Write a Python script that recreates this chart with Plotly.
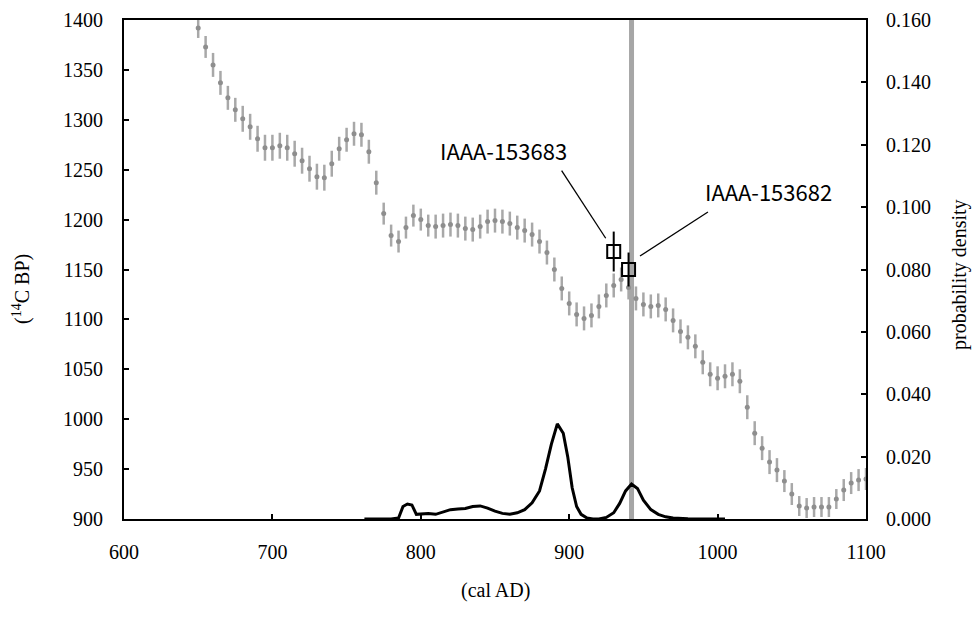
import plotly.graph_objects as go

# Calibration curve (IntCal-like), 5-year grid
cal_years = [650, 655, 660, 665, 670, 675, 680, 685, 690, 695,
             700, 705, 710, 715, 720, 725, 730, 735, 740, 745,
             750, 755, 760, 765, 770, 775, 780, 785, 790, 795,
             800, 805, 810, 815, 820, 825, 830, 835, 840, 845,
             850, 855, 860, 865, 870, 875, 880, 885, 890, 895,
             900, 905, 910, 915, 920, 925, 930, 935, 940, 945,
             950, 955, 960, 965, 970, 975, 980, 985, 990, 995,
             1000, 1005, 1010, 1015, 1020, 1025, 1030, 1035, 1040, 1045,
             1050, 1055, 1060, 1065, 1070, 1075, 1080, 1085, 1090, 1095,
             1100]
cal_bp = [1392, 1373, 1355, 1337, 1322, 1310, 1301, 1293, 1281, 1272,
          1272, 1274, 1272, 1266, 1259, 1251, 1243, 1242, 1256, 1271,
          1280, 1286, 1285, 1268, 1237, 1206, 1184, 1178, 1192, 1204,
          1200, 1194, 1193, 1194, 1195, 1194, 1191, 1190, 1193, 1198,
          1199, 1198, 1196, 1192, 1189, 1185, 1178, 1167, 1150, 1131,
          1116, 1105, 1101, 1104, 1113, 1124, 1134, 1140, 1132, 1121,
          1115, 1113, 1114, 1110, 1099, 1088, 1082, 1073, 1057, 1045,
          1041, 1043, 1045, 1038, 1012, 986, 971, 957, 949, 938,
          925, 913, 911, 912, 912, 912, 920, 929, 936, 939,
          940]
cal_err = [10, 11, 12, 12, 12, 12, 13, 13, 13, 13,
           13, 13, 13, 13, 13, 13, 13, 13, 13, 12,
           12, 12, 12, 12, 12, 11, 11, 11, 11, 11,
           11, 11, 12, 12, 12, 12, 12, 12, 12, 12,
           12, 12, 12, 12, 12, 12, 12, 12, 12, 12,
           12, 12, 12, 12, 12, 12, 12, 12, 12, 12,
           12, 12, 12, 12, 12, 12, 12, 12, 12, 12,
           12, 12, 12, 12, 12, 12, 12, 12, 12, 11,
           11, 10, 10, 10, 10, 10, 10, 11, 11, 11,
           11]

# Measured samples
sample_names = ["IAAA-153683", "IAAA-153682"]
sample_x = [930, 940]
sample_bp = [1168, 1150]
sample_err = [20, 17]

# Calibrated probability density
prob_years = [762, 770, 780, 785, 788, 791, 794, 797, 800, 805,
              810, 815, 820, 825, 830, 835, 840, 845, 850, 855,
              860, 865, 870, 875, 880, 884, 888, 892, 896, 899,
              902, 905, 908, 912, 916, 920, 925, 930, 934, 938,
              942, 946, 950, 955, 960, 965, 970, 980, 990, 1000, 1005]
prob_density = [0, 0, 0, 0.0003, 0.004, 0.0048, 0.0045, 0.0015, 0.0017, 0.0018,
                0.0015, 0.0022, 0.003, 0.0032, 0.0034, 0.004, 0.0042, 0.0035, 0.0025, 0.0018,
                0.0015, 0.002, 0.003, 0.0052, 0.009, 0.016, 0.024, 0.0305, 0.0275, 0.02,
                0.01, 0.004, 0.0015, 0.0003, 0, 0, 0.0005, 0.002, 0.005, 0.009,
                0.0112, 0.0098, 0.006, 0.003, 0.0015, 0.0007, 0.0003, 0.0001, 0, 0, 0]

median_year = 942

serif = "Liberation Serif"
gothic = "Noto Sans CJK JP"

fig = go.Figure()

fig.add_trace(go.Scatter(
    x=cal_years, y=cal_bp, mode="markers",
    marker=dict(color="#8e8e8e", size=5),
    error_y=dict(type="data", array=cal_err, color="#a8a8a8", thickness=2.5, width=0),
    showlegend=False, hoverinfo="skip"))

fig.add_trace(go.Scatter(
    x=sample_x, y=sample_bp, mode="markers",
    marker=dict(symbol="square-open", size=13, color="black", line=dict(width=2, color="black")),
    error_y=dict(type="data", array=sample_err, color="black", thickness=2, width=0),
    showlegend=False, hoverinfo="skip"))

fig.add_trace(go.Scatter(
    x=prob_years, y=prob_density, yaxis="y2", mode="lines",
    line=dict(color="black", width=3),
    showlegend=False, hoverinfo="skip"))

# vertical gray line
fig.add_shape(type="line", xref="x", yref="paper", x0=median_year, x1=median_year,
              y0=0, y1=1, line=dict(color="#a6a6a6", width=5), layer="below")

# leader lines
fig.add_shape(type="line", xref="x", yref="y", x0=894.9, y0=1249, x1=924.6, y1=1181.3,
              line=dict(color="black", width=1.3))
fig.add_shape(type="line", xref="x", yref="y", x0=947.7, y0=1163.5, x1=993.5, y1=1207.6,
              line=dict(color="black", width=1.3))

fig.add_annotation(x=855.9, y=1270, xref="x", yref="y", text=sample_names[0],
                   xanchor="center", yanchor="middle",
                   showarrow=False, font=dict(family=gothic, size=22, color="black"))
fig.add_annotation(x=1034, y=1229, xref="x", yref="y", text=sample_names[1],
                   xanchor="center", yanchor="middle",
                   showarrow=False, font=dict(family=gothic, size=22, color="black"))

# axis titles
fig.add_annotation(x=-0.1375, y=0.461, xref="paper", yref="paper", text="(<sup>14</sup>C BP)",
                   xanchor="center", yanchor="middle",
                   textangle=-90, showarrow=False, font=dict(family=serif, size=20, color="black"))
fig.add_annotation(x=1.1267, y=0.489, xref="paper", yref="paper", text="probability density",
                   xanchor="center", yanchor="middle",
                   textangle=-90, showarrow=False, font=dict(family=serif, size=20, color="black"))
fig.add_annotation(x=0.5, y=-0.1423, xref="paper", yref="paper", text="(cal AD)",
                   xanchor="center", yanchor="middle",
                   showarrow=False, font=dict(family=serif, size=20, color="black"))

fig.update_layout(
    width=975, height=619,
    margin=dict(l=124, r=109, t=20, b=100),
    plot_bgcolor="white", paper_bgcolor="white",
    xaxis=dict(range=[600, 1100], dtick=100, tick0=600, ticks="inside", ticklen=5,
               tickwidth=1.5, tickcolor="black", automargin=False,
               showline=True, linewidth=2, linecolor="black", mirror=True,
               showgrid=False, zeroline=False, ticklabelstandoff=14,
               tickfont=dict(family=serif, size=20, color="black")),
    yaxis=dict(range=[900, 1400], dtick=50, tick0=900, ticks="inside", ticklen=5,
               tickwidth=1.5, tickcolor="black", automargin=False,
               showline=True, linewidth=2, linecolor="black",
               showgrid=False, zeroline=False, ticklabelstandoff=15,
               tickfont=dict(family=serif, size=20, color="black")),
    yaxis2=dict(range=[0, 0.16], dtick=0.02, tick0=0, tickformat=".3f",
                overlaying="y", side="right", ticks="inside", ticklen=5,
                tickwidth=1.5, tickcolor="black", automargin=False,
                showline=True, linewidth=2, linecolor="black",
                showgrid=False, zeroline=False, ticklabelstandoff=14,
                tickfont=dict(family=serif, size=20, color="black")),
)

fig.write_html("out.html", config={"displayModeBar": False},
               post_script="document.body.style.margin='0';document.body.style.overflow='hidden';")
